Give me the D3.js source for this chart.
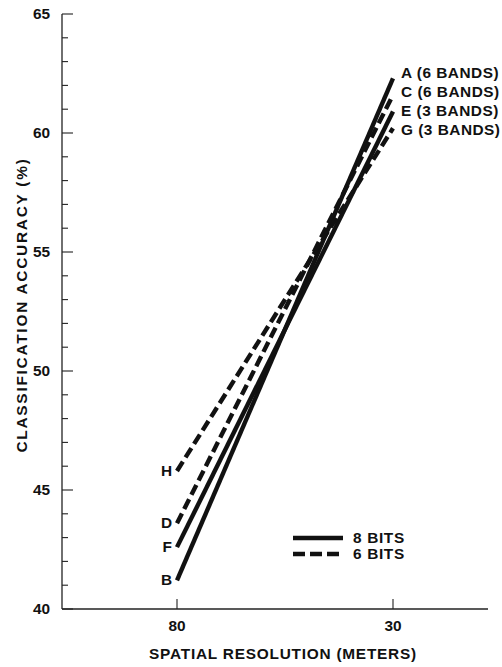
<!DOCTYPE html>
<html><head><meta charset="utf-8">
<script src="https://cdn.jsdelivr.net/npm/d3@7"></script>
<style>body{margin:0;background:#fff}svg{display:block}text{font-family:"Liberation Sans",Arial,sans-serif;font-weight:bold;fill:#111}</style>
</head><body><svg id="c" width="502" height="667"></svg>
<script>
const xCategories = ["80", "30"];
const seriesNames = ["A-B", "C-D", "E-F", "G-H"];
const leftLabels = ["B", "D", "F", "H"];
const rightLabels = ["A (6 BANDS)", "C (6 BANDS)", "E (3 BANDS)", "G (3 BANDS)"];
const bits = ["8", "6", "8", "6"];
const at80 = [41.2, 43.6, 42.6, 45.8];
const at30 = [62.3, 61.6, 60.9, 60.2];
const yTicks = [40, 45, 50, 55, 60, 65];
const legendLabels = ["8 BITS", "6 BITS"];

const svg = d3.select("#c");
const x = d3.scalePoint().domain(xCategories).range([177, 393]);
const y = d3.scaleLinear().domain([40, 65]).range([609, 14]);

function label(g, tx, ty, txt, opts) {
  const o = Object.assign({size: 14, anchor: "start", sx: 1.1, ls: 0.6, rot: 0}, opts || {});
  return g.append("text")
    .attr("transform", `translate(${tx},${ty}) rotate(${o.rot}) scale(${o.sx},1)`)
    .attr("text-anchor", o.anchor).attr("dy", o.dy == null ? "0.35em" : o.dy)
    .attr("font-size", o.size).attr("letter-spacing", o.ls)
    .style("white-space", "pre").text(txt);
}

// Y axis
const ya = svg.append("g").attr("transform", "translate(62,0)");
ya.append("line").attr("x1", 0).attr("x2", 0).attr("y1", y(65)).attr("y2", y(40)).attr("stroke", "#222").attr("stroke-width", 1.3);
d3.range(40, 66, 1).forEach(v => {
  const major = v % 5 === 0;
  ya.append("line").attr("x1", 0).attr("x2", major ? 11 : 6).attr("y1", y(v)).attr("y2", y(v)).attr("stroke", "#222").attr("stroke-width", 1.1);
});
yTicks.forEach(v => label(ya, -12, y(v), String(v), {anchor: "end", ls: 0}));
label(svg, 22, 305, "CLASSIFICATION ACCURACY (%)", {anchor: "middle", rot: -90, ls: 1.6});

// X axis
svg.append("line").attr("x1", 62).attr("x2", 488).attr("y1", y(40)).attr("y2", y(40)).attr("stroke", "#222").attr("stroke-width", 1.3);
xCategories.forEach(c => {
  svg.append("line").attr("x1", x(c)).attr("x2", x(c)).attr("y1", y(40)).attr("y2", y(40) - 10).attr("stroke", "#222").attr("stroke-width", 1.1);
  label(svg, x(c), 631, c, {anchor: "middle", ls: 0, dy: 0});
});
label(svg, 283, 659, "SPATIAL RESOLUTION (METERS)", {anchor: "middle", ls: 0.7, dy: 0});

// Lines
const line = d3.line().x(d => x(d[0])).y(d => y(d[1]));
seriesNames.forEach((s, i) => {
  const pts = [["80", at80[i]], ["30", at30[i]]];
  svg.append("path").attr("d", line(pts)).attr("fill", "none").attr("stroke", "#111")
    .attr("stroke-width", 4.4).attr("stroke-dasharray", bits[i] === "6" ? "11,5" : null);
  label(svg, 172, y(at80[i]), leftLabels[i], {anchor: "end", ls: 0});
});
const rightY = [73, 92, 111, 130];
rightLabels.forEach((t, i) => label(svg, 401, rightY[i], t, {ls: 0.45}));

// Legend
legendLabels.forEach((t, i) => {
  const ly = 538 + i * 16;
  svg.append("line").attr("x1", 293).attr("x2", 343).attr("y1", ly).attr("y2", ly).attr("stroke", "#111").attr("stroke-width", 4.4)
    .attr("stroke-dasharray", i === 1 ? "12,5" : null);
  label(svg, 353, ly, t, {ls: 0.6});
});
</script></body></html>
